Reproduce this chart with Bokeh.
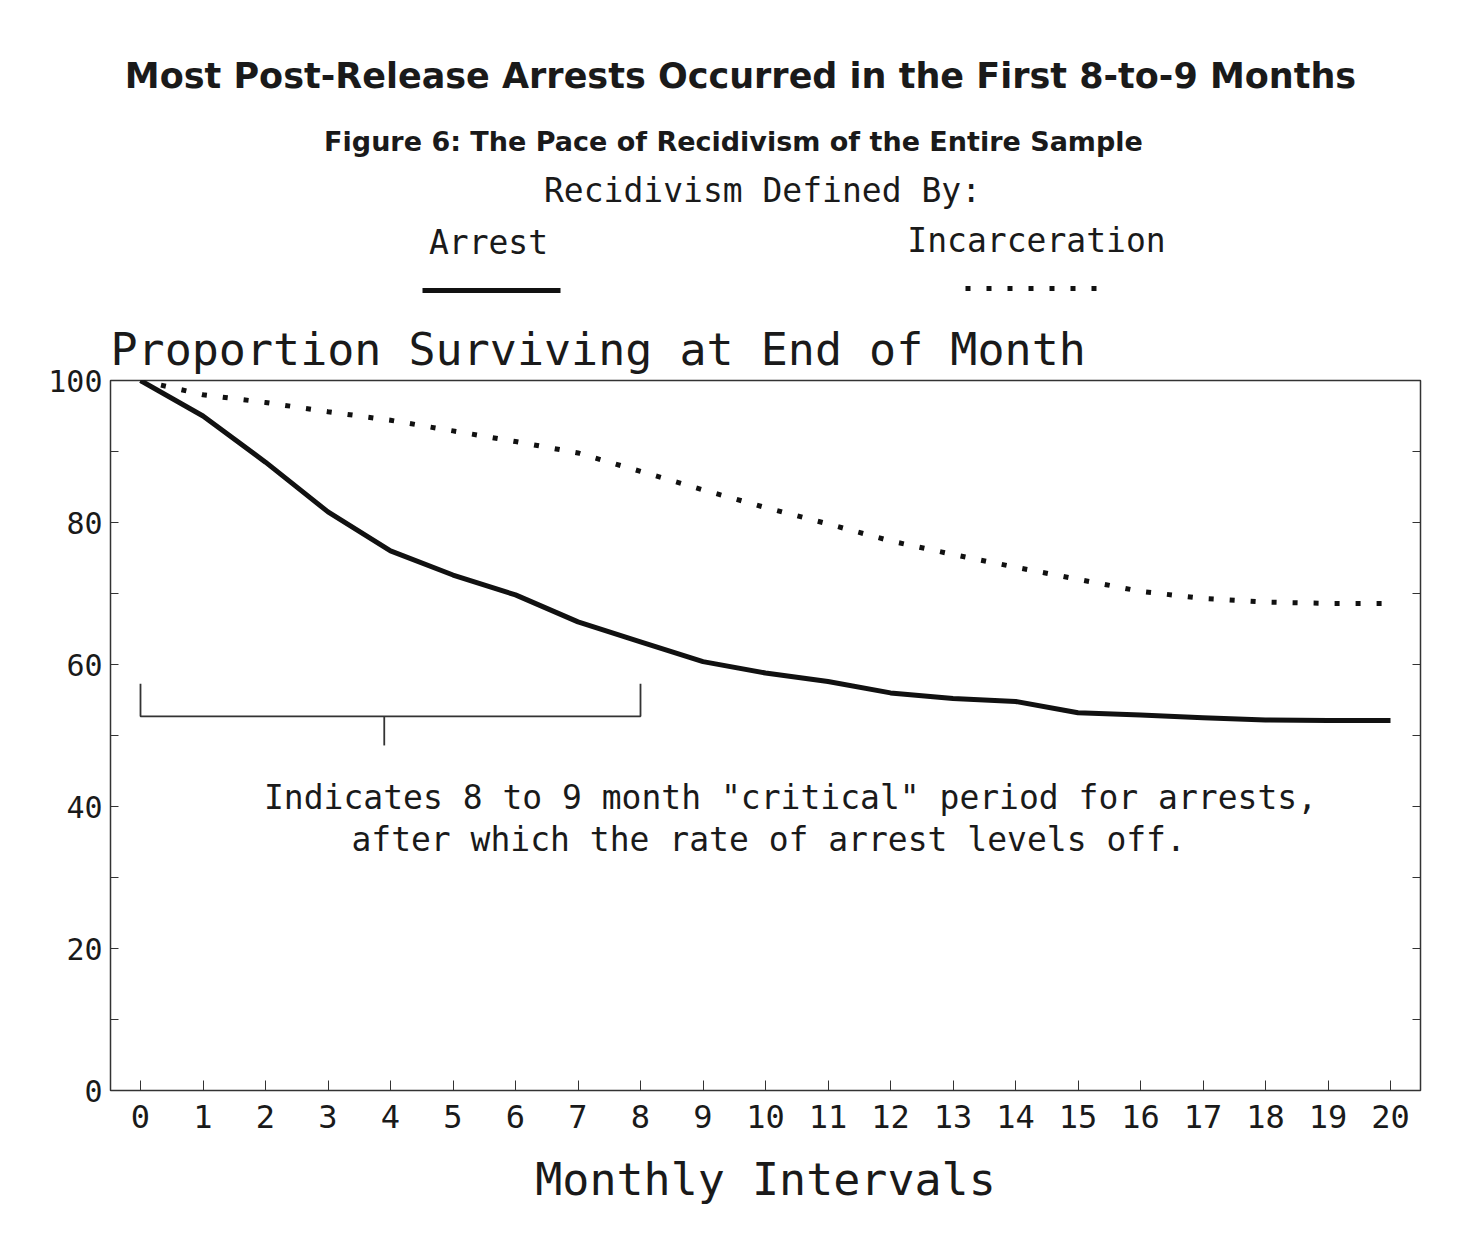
from bokeh.plotting import figure
from bokeh.models import Range1d, LinearAxis, FixedTicker, Title
from bokeh.layouts import column
from bokeh.embed import file_html
from bokeh.resources import INLINE
from bokeh.core.properties import value

months = list(range(0, 21))
arrest = [100, 95.0, 88.5, 81.5, 76.0, 72.6, 69.8, 66.0, 63.2, 60.4, 58.8,
          57.6, 56.0, 55.2, 54.8, 53.2, 52.9, 52.5, 52.2, 52.1, 52.1]
incarceration = [100, 98.0, 96.9, 95.6, 94.4, 92.9, 91.4, 89.8, 87.2, 84.6, 82.1,
                 79.8, 77.4, 75.5, 73.7, 72.0, 70.3, 69.3, 68.8, 68.6, 68.6]
x_ticks = months
y_ticks = [0, 20, 40, 60, 80, 100]
series_names = ["Arrest", "Incarceration"]

INK = "#1a1a1a"
MONO = "DejaVu Sans Mono"
BOLD = "DejaVu Sans"
LEFT = 110
FRAME_W = 1310
RIGHT = 25
HEAD_H = 310

# ---------------- header (titles + legend) ----------------
h = figure(frame_width=FRAME_W, frame_height=HEAD_H, output_backend="svg",
           toolbar_location=None,
           x_range=Range1d(LEFT, LEFT + FRAME_W), y_range=Range1d(HEAD_H, 0),
           min_border_left=LEFT, min_border_right=RIGHT, min_border_top=0,
           min_border_bottom=0, outline_line_color=None)
h.axis.visible = False
h.grid.visible = False


def htext(x, y, t, size, font=MONO, bold=False, align="center"):
    h.text(x=[x], y=[y], text=[t], text_font=value(font), text_font_size=size,
           text_color=INK, text_font_style="bold" if bold else "normal",
           text_align=align, text_baseline="middle")


htext(740, 75, "Most Post-Release Arrests Occurred in the First 8-to-9 Months", "35px",
      font=BOLD, bold=True)
htext(733, 141, "Figure 6: The Pace of Recidivism of the Entire Sample", "27px",
      font=BOLD, bold=True)
htext(762, 190, "Recidivism Defined By:", "33px")
htext(488, 242, series_names[0], "33px")
htext(1036, 240, series_names[1], "33px")
h.line([422, 560], [290, 290], line_width=5, line_color="#111111")
h.line([965, 1098], [288, 288], line_width=5, line_color="#111111", line_dash="5 16")

# ---------------- main chart ----------------
p = figure(frame_width=FRAME_W, frame_height=710, output_backend="svg",
           toolbar_location=None, x_range=Range1d(-0.48, 20.48), y_range=Range1d(0, 100),
           min_border_left=LEFT, min_border_top=70, min_border_bottom=130,
           min_border_right=RIGHT)
p.background_fill_color = "white"
p.border_fill_color = "white"
p.outline_line_color = "#333333"
p.outline_line_width = 1.5
p.grid.visible = False

p.add_layout(Title(text="Proportion Surviving at End of Month", align="left",
                   text_font=MONO, text_font_size="45px", text_font_style="normal",
                   text_color=INK, standoff=9, offset=0), "above")

p.xaxis.ticker = FixedTicker(ticks=x_ticks)
p.xaxis.major_tick_in = 10
p.xaxis.major_tick_out = 0
p.xaxis.minor_tick_line_color = None
p.xaxis.axis_line_color = "#333333"
p.xaxis.major_tick_line_color = "#333333"
p.xaxis.major_label_text_font = MONO
p.xaxis.major_label_text_font_size = "32px"
p.xaxis.major_label_text_color = INK
p.xaxis.major_label_standoff = 14
p.xaxis.axis_label = "Monthly Intervals"
p.xaxis.axis_label_text_font = MONO
p.xaxis.axis_label_text_font_size = "45px"
p.xaxis.axis_label_text_font_style = "normal"
p.xaxis.axis_label_text_color = INK
p.xaxis.axis_label_standoff = 22

p.yaxis.ticker = FixedTicker(ticks=y_ticks, minor_ticks=[10, 30, 50, 70, 90])
p.yaxis.major_tick_in = 8
p.yaxis.major_tick_out = 0
p.yaxis.minor_tick_in = 8
p.yaxis.minor_tick_out = 0
p.yaxis.axis_line_color = "#333333"
p.yaxis.major_tick_line_color = "#333333"
p.yaxis.minor_tick_line_color = "#333333"
p.yaxis.major_label_text_font = MONO
p.yaxis.major_label_text_font_size = "30px"
p.yaxis.major_label_text_color = INK
p.yaxis.major_label_standoff = 8

right_ticks = [0, 10, 20, 30, 40, 50, 60, 70, 80, 90, 100]
right = LinearAxis(ticker=FixedTicker(ticks=right_ticks),
                   major_tick_in=8, major_tick_out=0, minor_tick_line_color=None,
                   major_label_overrides={t: "" for t in right_ticks},
                   axis_line_color="#333333", major_tick_line_color="#333333")
p.add_layout(right, "right")

# data lines
p.line(months, arrest, line_width=5, line_color="#111111", line_join="round")
p.line(months, incarceration, line_width=5, line_color="#111111", line_dash="5 16")

# critical period bracket
bracket_x = [0, 0, 8, 8]
bracket_y = [57.3, 52.7, 52.7, 57.3]
p.line(bracket_x, bracket_y, line_width=1.8, line_color="#333333")
p.line([3.9, 3.9], [52.7, 48.6], line_width=1.8, line_color="#333333")

p.text(x=[10.4, 10.05], y=[41.3, 35.4],
       text=["Indicates 8 to 9 month \"critical\" period for arrests,",
             "after which the rate of arrest levels off."],
       text_font=value(MONO), text_font_size="33px", text_color=INK,
       text_align="center", text_baseline="middle")

layout = column(h, p, spacing=0)
open("out.html", "w").write(file_html(layout, INLINE))
